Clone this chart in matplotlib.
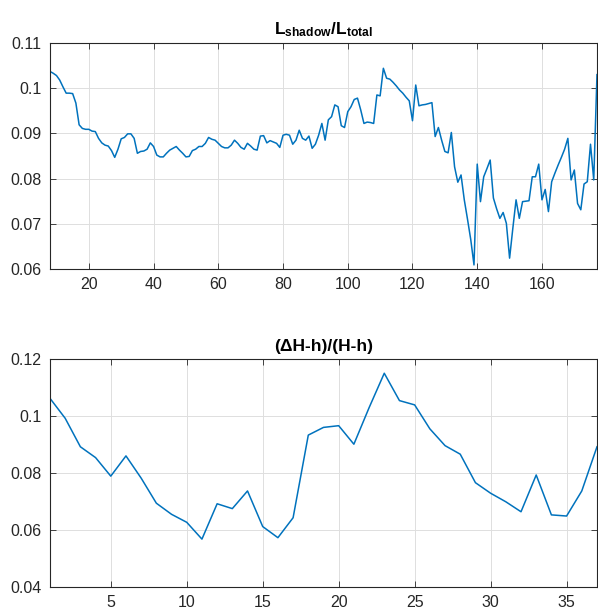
import matplotlib
matplotlib.use("Agg")
import matplotlib.pyplot as plt
import numpy as np

# top panel: L_shadow / L_total, x = 8 .. 177
shadow_x = list(range(8, 178))
shadow_ratio = [
    0.1037, 0.1033, 0.1028, 0.1018, 0.1003, 0.0989, 0.0989, 0.0988, 0.0967, 0.0919,
    0.0911, 0.0909, 0.0909, 0.0905, 0.0904, 0.0889, 0.0879, 0.0874, 0.0872, 0.0862,
    0.0847, 0.0865, 0.0888, 0.0891, 0.0899, 0.0899, 0.0889, 0.0856, 0.0860, 0.0861,
    0.0865, 0.0879, 0.0871, 0.0852, 0.0848, 0.0848, 0.0856, 0.0863, 0.0867, 0.0871,
    0.0863, 0.0856, 0.0848, 0.0849, 0.0862, 0.0865, 0.0871, 0.0871, 0.0878, 0.0891,
    0.0887, 0.0885, 0.0878, 0.0871, 0.0868, 0.0868, 0.0874, 0.0885, 0.0878, 0.0869,
    0.0865, 0.0878, 0.0872, 0.0865, 0.0863, 0.0894, 0.0895, 0.0879, 0.0884, 0.0881,
    0.0878, 0.0869, 0.0896, 0.0898, 0.0896, 0.0876, 0.0885, 0.0907, 0.0889, 0.0885,
    0.0894, 0.0867, 0.0876, 0.0896, 0.0922, 0.0885, 0.0930, 0.0937, 0.0963, 0.0959,
    0.0917, 0.0913, 0.0948, 0.0959, 0.0975, 0.0978, 0.0952, 0.0922, 0.0925, 0.0924,
    0.0922, 0.0985, 0.0983, 0.1044, 0.1022, 0.1020, 0.1013, 0.1005, 0.0996, 0.0989,
    0.0980, 0.0972, 0.0928, 0.1007, 0.0961, 0.0963, 0.0964, 0.0966, 0.0968, 0.0893,
    0.0913, 0.0885, 0.0860, 0.0857, 0.0902, 0.0826, 0.0792, 0.0808, 0.0753, 0.0710,
    0.0665, 0.0609, 0.0832, 0.0749, 0.0804, 0.0822, 0.0841, 0.0757, 0.0733, 0.0712,
    0.0725, 0.0701, 0.0624, 0.0690, 0.0753, 0.0712, 0.0749, 0.0750, 0.0751, 0.0804,
    0.0804, 0.0832, 0.0753, 0.0776, 0.0727, 0.0793, 0.0812, 0.0830, 0.0847, 0.0865,
    0.0889, 0.0797, 0.0819, 0.0745, 0.0731, 0.0788, 0.0793, 0.0876, 0.0797, 0.1030,
]

# bottom panel: (dH-h)/(H-h), x = 1 .. 37
height_x = list(range(1, 38))
height_ratio = [
    0.1062, 0.0992, 0.0892, 0.0854, 0.0789, 0.0860, 0.0782, 0.0694, 0.0655, 0.0627,
    0.0568, 0.0692, 0.0675, 0.0737, 0.0612, 0.0573, 0.0643, 0.0933, 0.0960, 0.0966,
    0.0901, 0.1029, 0.1150, 0.1054, 0.1039, 0.0955, 0.0896, 0.0866, 0.0766, 0.0729,
    0.0699, 0.0664, 0.0793, 0.0653, 0.0649, 0.0737, 0.0892,
]

top_xticks = [20, 40, 60, 80, 100, 120, 140, 160]
top_yticks = [0.06, 0.07, 0.08, 0.09, 0.1, 0.11]
top_ylabels = ["0.06", "0.07", "0.08", "0.09", "0.1", "0.11"]
bot_xticks = [5, 10, 15, 20, 25, 30, 35]
bot_yticks = [0.04, 0.06, 0.08, 0.1, 0.12]
bot_ylabels = ["0.04", "0.06", "0.08", "0.1", "0.12"]

plt.rcParams["font.family"] = ["Liberation Sans", "DejaVu Sans"]
plt.rcParams["mathtext.fontset"] = "custom"
plt.rcParams["mathtext.rm"] = "Liberation Sans"
plt.rcParams["mathtext.bf"] = "Liberation Sans:bold"

LINE = "#0072BD"
AXC = "#262626"


def style_axes(ax):
    for s in ax.spines.values():
        s.set_color(AXC)
        s.set_linewidth(0.8)
    ax.tick_params(direction="in", length=4, width=0.6, color=AXC,
                   labelcolor=AXC, labelsize=11.5, top=True, right=True,
                   pad=6)
    ax.grid(True, color="#dedede", linewidth=0.7)
    ax.set_axisbelow(True)


fig = plt.figure(figsize=(5.98, 6.14), dpi=100)
ax1 = fig.add_axes([0.0836, 0.5619, 0.9147, 0.3681])
ax2 = fig.add_axes([0.0836, 0.0440, 0.9147, 0.3713])

ax1.plot(shadow_x, shadow_ratio, color=LINE, linewidth=1.1)
ax1.set_xlim(shadow_x[0], shadow_x[-1])
ax1.set_ylim(0.06, 0.11)
ax1.set_xticks(top_xticks)
ax1.set_yticks(top_yticks)
ax1.set_yticklabels(top_ylabels)
ax1.set_title(r"$\mathbf{L_{shadow}/L_{total}}$", fontsize=12.5, color="black", pad=6)
style_axes(ax1)

ax2.plot(height_x, height_ratio, color=LINE, linewidth=1.1)
ax2.set_xlim(height_x[0], height_x[-1])
ax2.set_ylim(0.04, 0.12)
ax2.set_xticks(bot_xticks)
ax2.set_yticks(bot_yticks)
ax2.set_yticklabels(bot_ylabels)
ax2.set_title("(\u0394H-h)/(H-h)", fontsize=12.5, fontweight="bold", color="black", pad=6)
style_axes(ax2)

fig.savefig("out.png", dpi=100)
